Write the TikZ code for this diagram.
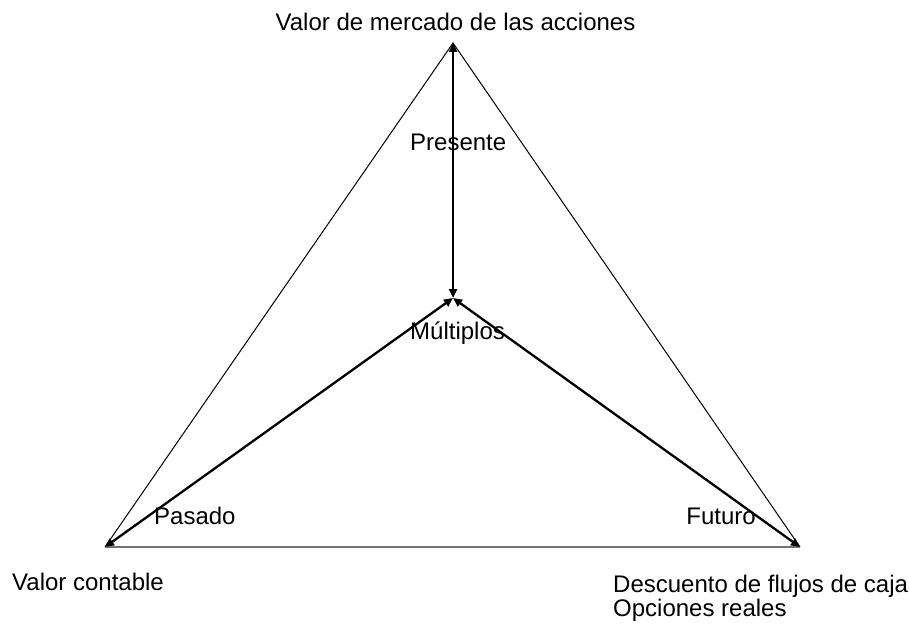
\documentclass[tikz,border=0pt]{standalone}
\usepackage{fontspec}
\setmainfont{Liberation Sans}
\usetikzlibrary{arrows.meta}
\begin{document}
\begin{tikzpicture}[x=1pt,y=-1pt,
  lbl/.style={inner sep=0pt,font=\fontsize{24}{28}\selectfont},
  edge/.style={line width=1pt,black},
  base/.style={line width=1.8pt,black!55},
  flow/.style={line width=2.3pt,black,{Triangle[length=9pt,width=8pt]}-{Triangle[length=9pt,width=8pt]}}]
\useasboundingbox[fill=white] (0,0) rectangle (909,623);
\coordinate (A) at (453,43);
\coordinate (C) at (453,298);
\coordinate (BL) at (105,547);
\coordinate (BR) at (800,547);
\draw[edge] (BL) -- (A) -- (BR);
\draw[base] (BL) -- (BR);
\draw[flow] (C) -- (A);
\draw[flow] (C) -- (BL);
\draw[flow] (C) -- (BR);
\node[lbl,anchor=base] (top) at (455.5,31) {Valor de mercado de las acciones};
\node[lbl,anchor=base west] (pres) at (410,150) {Presente};
\node[lbl,anchor=base west] (mult) at (410,339) {Múltiplos};
\node[lbl,anchor=base west] (pas) at (154,524) {Pasado};
\node[lbl,anchor=base east] (fut) at (756,524) {Futuro};
\node[lbl,anchor=base west] (vc) at (12,590) {Valor contable};
\node[lbl,anchor=base west] (dfc) at (613,592) {Descuento de flujos de caja};
\node[lbl,anchor=base west] (opr) at (613,616) {Opciones reales};
\end{tikzpicture}
\end{document}
